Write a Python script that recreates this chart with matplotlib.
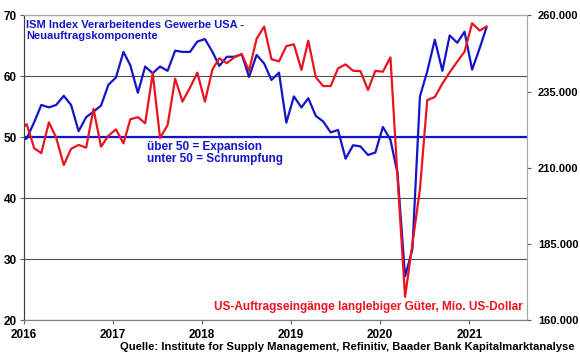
import pandas as pd
import matplotlib
matplotlib.use('Agg')
import matplotlib.pyplot as plt
import matplotlib.dates as mdates
from matplotlib.ticker import FuncFormatter

plt.rcParams['font.family'] = ['Liberation Sans', 'DejaVu Sans']

# Monthly data, Dec 2015 - Mar 2021
months = pd.date_range('2015-12-01', periods=64, freq='MS') + pd.Timedelta(days=11)

# ISM new orders index (left axis)
ism_new_orders = [
    49.4,
    49.8, 52.5, 55.3, 54.9, 55.3, 56.8, 55.3, 51.0, 53.3, 54.2, 55.2, 58.6,
    59.8, 64.0, 61.8, 57.3, 61.6, 60.5, 61.6, 60.9, 64.2, 64.0, 64.0, 65.7,
    66.1, 64.0, 61.7, 63.2, 63.2, 63.6, 59.9, 63.5, 62.1, 59.4, 60.6, 52.4,
    56.7, 54.9, 56.4, 53.5, 52.6, 50.8, 51.2, 46.5, 48.7, 48.5, 47.1, 47.5,
    51.7, 49.6, 44.1, 27.2, 31.6, 56.7, 60.8, 66.0, 60.9, 66.7, 65.5, 67.3,
    61.1, 64.6, 68.0,
]

# US durable goods orders, Mio. USD (right axis)
durable_goods = [
    222000,
    224300, 216400, 214800, 224900, 219900, 210900, 216200, 217500, 216600, 229300, 216900, 220500,
    222600, 218000, 225900, 226600, 224600, 241000, 219800, 224000, 239200, 231700, 236300, 241200,
    231700, 242300, 245900, 244300, 246200, 247300, 241800, 252300, 256300, 245600, 244900, 249900,
    250500, 242100, 251700, 239700, 236800, 236800, 242600, 243900, 241800, 241700, 235500, 241800,
    241500, 246200, 207000, 167700, 185000, 203000, 232200, 233200, 237600, 241300, 244800, 248100,
    257400, 255000, 256300,
]

blue = '#1414C8'
red = '#E8141E'

fig = plt.figure(figsize=(5.8, 3.59), dpi=100)
ax = fig.add_axes([0.0414, 0.1078, 0.868, 0.8496])
ax2 = ax.twinx()

ax.set_ylim(20, 70)
ax.set_yticks([20, 30, 40, 50, 60, 70])
ax.grid(axis='y', color='#505050', lw=0.8)
ax.set_axisbelow(True)
ax.axhline(50, color=blue, lw=1.6, zorder=2)
ax.plot(months, ism_new_orders, color=blue, lw=1.6, zorder=3)

ax2.set_ylim(160000, 260000)
ax2.set_yticks([160000, 185000, 210000, 235000, 260000])
ax2.yaxis.set_major_formatter(FuncFormatter(lambda v, p: f'{v:,.0f}'.replace(',', '.')))
ax2.plot(months, durable_goods, color=red, lw=1.6)

ax.set_xlim(pd.Timestamp('2016-01-01'), pd.Timestamp('2021-08-27'))
ax.xaxis.set_major_locator(mdates.YearLocator())
ax.xaxis.set_major_formatter(mdates.DateFormatter('%Y'))

for a in (ax, ax2):
    a.tick_params(labelsize=8.5, length=3, width=0.8, color='#606060')
    for lab in a.get_xticklabels() + a.get_yticklabels():
        lab.set_fontweight('bold')
    a.spines['top'].set_color('#A8A8A8')
    a.spines['right'].set_color('#A8A8A8')
    a.spines['left'].set_color('#404040')
    a.spines['bottom'].set_color('#808080')
ax.tick_params(axis='y', pad=2)
ax2.tick_params(axis='y', labelsize=8, pad=4.5)

fig.text(26 / 580, 1 - 20 / 359, 'ISM Index Verarbeitendes Gewerbe USA -\nNeuauftragskomponente',
         color=blue, fontsize=8, fontweight='bold', va='top', ha='left', linespacing=1.1)
fig.text(147 / 580, 1 - 141 / 359, 'über 50 = Expansion\nunter 50 = Schrumpfung',
         color=blue, fontsize=8.5, fontweight='bold', va='top', ha='left', linespacing=1.05)
fig.text(523 / 580, 1 - 307 / 359, 'US-Auftragseingänge langlebiger Güter, Mio. US-Dollar',
         color=red, fontsize=8.5, fontweight='bold', va='center', ha='right')
fig.text(575 / 580, 1 - 347 / 359,
         'Quelle: Institute for Supply Management, Refinitiv, Baader Bank Kapitalmarktanalyse',
         color='black', fontsize=8.1, fontweight='bold', va='center', ha='right')

fig.savefig('out.png', dpi=100)
